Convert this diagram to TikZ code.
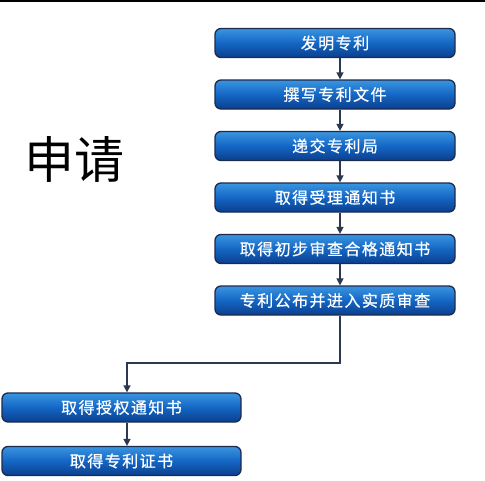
\documentclass[tikz,border=0pt]{standalone}
\usepackage{fontspec}
\newfontfamily\cjk{Noto Sans CJK SC}
\newfontfamily\cjkbox[FakeBold=0.6,LetterSpace=9]{Noto Sans CJK SC}
\usetikzlibrary{arrows.meta}
\definecolor{boxtop}{HTML}{3A95E0}
\definecolor{boxmid}{HTML}{1466C4}
\definecolor{boxbot}{HTML}{0B3F8E}
\definecolor{boxedge}{HTML}{1B2B4E}
\definecolor{arrowc}{HTML}{2B3850}
\tikzset{
  stepbox/.style={draw=boxedge, line width=1.3pt, rounded corners=6pt,
    top color=boxtop, bottom color=boxbot, middle color=boxmid,
    minimum height=29pt, inner sep=0pt, text=white,
    font=\cjkbox\fontsize{16}{17}\selectfont},
  rbox/.style={stepbox, minimum width=240pt},
  lbox/.style={stepbox, minimum width=239pt},
  flow/.style={draw=arrowc, line width=1.5pt, -{Triangle[length=7pt,width=7pt]}}
}
\begin{document}
\begin{tikzpicture}[x=1pt,y=-1pt]
\useasboundingbox (0,0) rectangle (485,480);
\fill[white] (0,0) rectangle (485,480);
\draw[black, line width=2pt] (0,1) -- (485,1);
\node[font=\cjk\fontsize{50}{52}\selectfont, anchor=center] (title) at (74,159) {申请};
\node[rbox] (n1) at (335,43) {发明专利};
\node[rbox] (n2) at (335,94.5) {撰写专利文件};
\node[rbox] (n3) at (335,146) {递交专利局};
\node[rbox] (n4) at (335,197.5) {取得受理通知书};
\node[rbox] (n5) at (335,249) {取得初步审查合格通知书};
\node[rbox] (n6) at (335,300.5) {专利公布并进入实质审查};
\node[lbox] (n7) at (121.5,407.5) {取得授权通知书};
\node[lbox] (n8) at (121.5,461) {取得专利证书};
\coordinate (ax) at (340,0);
\coordinate (bx) at (127,0);
\coordinate (turn) at (340,363);
\draw[flow] (n1.south -| ax) -- (n2.north -| ax);
\draw[flow] (n2.south -| ax) -- (n3.north -| ax);
\draw[flow] (n3.south -| ax) -- (n4.north -| ax);
\draw[flow] (n4.south -| ax) -- (n5.north -| ax);
\draw[flow] (n5.south -| ax) -- (n6.north -| ax);
\draw[flow] (n6.south -| ax) -- (turn) -- (turn -| bx) -- (n7.north -| bx);
\draw[flow] (n7.south -| bx) -- (n8.north -| bx);
\end{tikzpicture}
\end{document}
